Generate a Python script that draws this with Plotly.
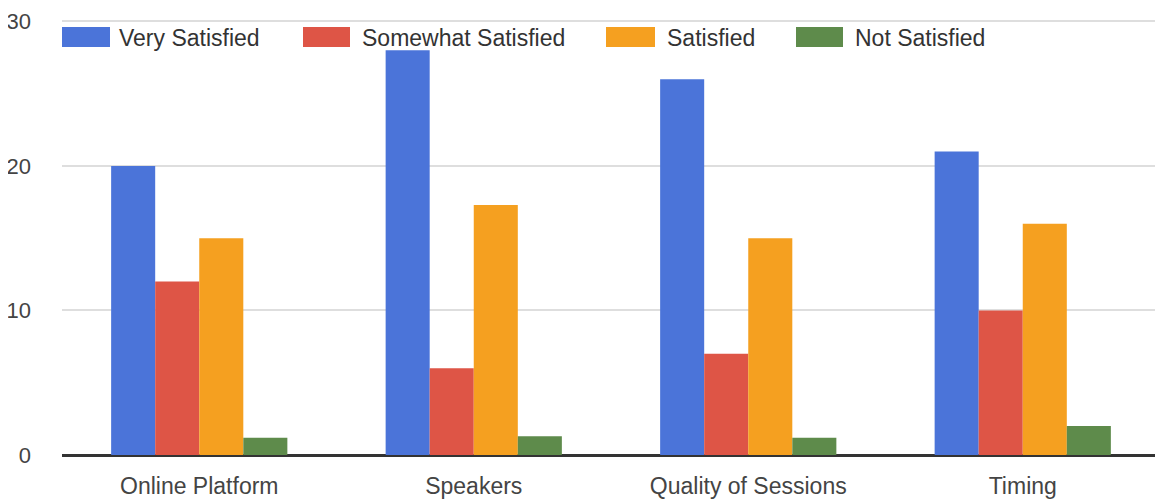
import plotly.graph_objects as go

categories = ["Online Platform", "Speakers", "Quality of Sessions", "Timing"]
very_satisfied = [20, 28, 26, 21]
somewhat_satisfied = [12, 6, 7, 10]
satisfied = [15, 17.3, 15, 16]
not_satisfied = [1.2, 1.3, 1.2, 2]
series_names = ["Very Satisfied", "Somewhat Satisfied", "Satisfied", "Not Satisfied"]
colors = ["#4B74D9", "#DE5546", "#F5A020", "#5E8B4B"]
y_ticks = [0, 10, 20, 30]

# page body has an 8px default margin, compensate in the figure margins
OFF = 8
W, H = 1163, 503
L, R, T, B = 54, 11, 12, 56
PW, PH = W - L - R, H - T - B

def px_x(px):
    return (px - OFF - L) / PW

def px_y(py):
    return 1 - (py - OFF - T) / PH

fig = go.Figure()
for name, vals, col in zip(series_names,
                           [very_satisfied, somewhat_satisfied, satisfied, not_satisfied],
                           colors):
    fig.add_trace(go.Bar(x=categories, y=vals, name=name, marker_color=col,
                         marker_line_width=0, showlegend=False))

# custom legend (wide swatches like the reference)
legend_swatch_px = [(62, 110), (303, 350), (606, 655), (796, 843)]
legend_text_px = [117, 360, 665, 853]
shapes = []
annotations = []
for (x0, x1), tx, name, col in zip(legend_swatch_px, legend_text_px, series_names, colors):
    shapes.append(dict(type="rect", xref="paper", yref="paper",
                       x0=px_x(x0), x1=px_x(x1), y0=px_y(47), y1=px_y(27),
                       fillcolor=col, line=dict(width=0), layer="above"))
    annotations.append(dict(text=name, xref="paper", yref="paper",
                            x=px_x(tx), y=px_y(38), xanchor="left", yanchor="middle",
                            showarrow=False, font=dict(size=23, color="#333")))

fig.update_layout(
    width=W, height=H,
    margin=dict(l=L, r=R, t=T, b=B),
    paper_bgcolor="white", plot_bgcolor="white",
    barmode="group", bargap=0.358, bargroupgap=0,
    font=dict(family="Liberation Sans, Arial, sans-serif", size=22, color="#444"),
    shapes=shapes, annotations=annotations,
    showlegend=False,
)
fig.update_xaxes(showgrid=False, showline=False, ticks="", automargin=False,
                 tickfont=dict(size=23, color="#444"), ticklabelstandoff=15)
fig.update_yaxes(range=[0, 30.1], tickvals=y_ticks, showgrid=True, gridcolor="#dedede",
                 gridwidth=2, zeroline=True, zerolinecolor="#333", zerolinewidth=3,
                 ticks="", automargin=False, tickfont=dict(size=22, color="#444"),
                 ticklabelstandoff=30)

fig.write_html("out.html")
